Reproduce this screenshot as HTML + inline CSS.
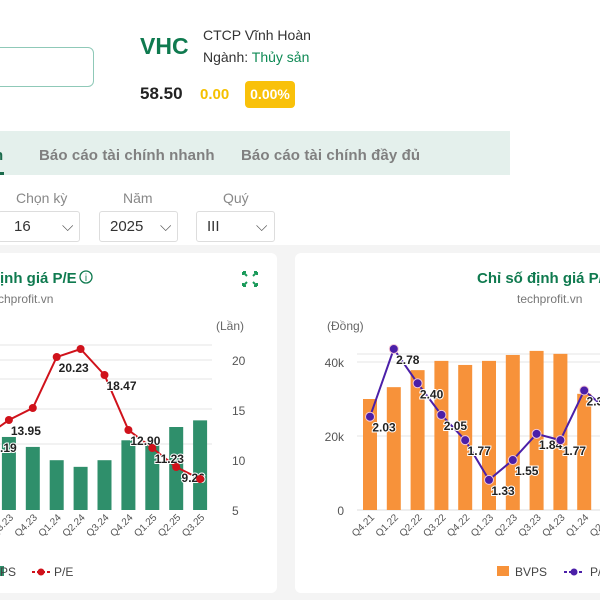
<!DOCTYPE html>
<html><head><meta charset="utf-8">
<style>
body{margin:0;width:600px;height:600px;overflow:hidden;background:#fff;font-family:"Liberation Sans","Noto Sans CJK SC",sans-serif;position:relative}
.a{position:absolute;white-space:nowrap}
</style></head><body>
<div class="a" style="left:-10px;top:47px;width:102px;height:38px;border:1px solid #8fc9b8;border-radius:6px"></div>
<div class="a" style="left:140px;top:33px;font-size:23px;font-weight:bold;color:#0f7a4f">VHC</div>
<div class="a" style="left:203px;top:27px;font-size:14px;color:#333">CTCP Vĩnh Hoàn</div>
<div class="a" style="left:203px;top:49px;font-size:14px;color:#333">Ngành: <span style="color:#0f8a55">Thủy sản</span></div>
<div class="a" style="left:140px;top:84px;font-size:17px;font-weight:bold;color:#222">58.50</div>
<div class="a" style="left:200px;top:86px;font-size:15px;font-weight:bold;color:#f5c000">0.00</div>
<div class="a" style="left:245px;top:81px;width:50px;height:27px;background:#f9c10a;border-radius:4px;color:#fff;font-weight:bold;font-size:14px;line-height:27px;text-align:center">0.00%</div>
<div class="a" style="left:0;top:131px;width:510px;height:44px;background:#e4f0ec"></div>
<div class="a" style="left:-6px;top:147px;font-size:15px;font-weight:bold;color:#1b6b4c">h</div>
<div class="a" style="left:0;top:172px;width:4px;height:3px;background:#1b6b4c"></div>
<div class="a" style="left:39px;top:147px;font-size:15px;font-weight:bold;color:#808080;letter-spacing:0.1px">Báo cáo tài chính nhanh</div>
<div class="a" style="left:241px;top:147px;font-size:15px;font-weight:bold;color:#808080;letter-spacing:0.1px">Báo cáo tài chính đầy đủ</div>
<div class="a" style="left:16px;top:190px;font-size:14px;color:#888">Chọn kỳ</div>
<div class="a" style="left:123px;top:190px;font-size:14px;color:#888">Năm</div>
<div class="a" style="left:223px;top:190px;font-size:14px;color:#888">Quý</div>
<div class="a" style="left:-2px;top:211px;width:80px;height:29px;border:1px solid #ddd;border-radius:3px;font-size:15px;line-height:29px;color:#333"><span style="margin-left:15px">16</span><span style="position:absolute;left:63px;color:#555">⌵</span></div>
<div class="a" style="left:99px;top:211px;width:77px;height:29px;border:1px solid #ddd;border-radius:3px;font-size:15px;line-height:29px;color:#333"><span style="margin-left:10px">2025</span><span style="position:absolute;left:60px;color:#555">⌵</span></div>
<div class="a" style="left:196px;top:211px;width:77px;height:29px;border:1px solid #ddd;border-radius:3px;font-size:15px;line-height:29px;color:#333"><span style="margin-left:10px">III</span><span style="position:absolute;left:59px;color:#555">⌵</span></div>
<div class="a" style="left:0;top:245px;width:600px;height:355px;background:#f4f4f4"></div>
<div class="a" style="left:-10px;top:253px;width:287px;height:340px;background:#fff;border-radius:6px"></div>
<div class="a" style="left:295px;top:253px;width:320px;height:340px;background:#fff;border-radius:6px"></div>
<svg class="a" style="left:0;top:0" width="600" height="600" id="svg" font-family="Liberation Sans, sans-serif">
<text x="0" y="283" font-size="15" font-weight="bold" fill="#0f7a4f">ịnh giá P/E</text>
<circle cx="86" cy="277" r="6" fill="none" stroke="#0f7a4f" stroke-width="1.3"/>
<text x="86" y="281" font-size="10" text-anchor="middle" fill="#0f7a4f">i</text>
<g stroke="#1a9a5a" stroke-width="2" fill="none"><path d="M243 272l4 4M243 272h3M243 272v3M257 272l-4 4M257 272h-3M257 272v3M243 286l4-4M243 286h3M243 286v-3M257 286l-4-4M257 286h-3M257 286v-3"/></g>
<text x="-12" y="303" font-size="12" fill="#777">techprofit.vn</text>
<text x="216" y="330" font-size="12" fill="#666">(Lần)</text>
<text x="477" y="283" font-size="15" font-weight="bold" fill="#0f7a4f">Chỉ số định giá P/B</text>
<text x="517" y="303" font-size="12" fill="#777">techprofit.vn</text>
<text x="327" y="330" font-size="12" fill="#666">(Đồng)</text>
<g id="L"></g><g id="R"></g>
<rect x="-8" y="566" width="12" height="10" fill="#2f8f6b"/>
<text x="0" y="576" font-size="12" fill="#444">PS</text>
<line x1="32" y1="572" x2="50" y2="572" stroke="#d0121b" stroke-width="2" stroke-dasharray="3,2"/>
<circle cx="41" cy="572" r="3.5" fill="#d0121b"/>
<text x="54" y="576" font-size="12" fill="#444">P/E</text>
<rect x="497" y="566" width="12" height="10" fill="#f7923a"/>
<text x="515" y="576" font-size="12" fill="#444">BVPS</text>
<line x1="564" y1="572" x2="584" y2="572" stroke="#4b1fa8" stroke-width="2" stroke-dasharray="3,2"/>
<circle cx="574" cy="572" r="3.5" fill="#4b1fa8"/>
<text x="590" y="576" font-size="12" fill="#444">P/B</text>
</svg>
<script>
const peCats=["Q2.23","Q3.23","Q4.23","Q1.24","Q2.24","Q3.24","Q4.24","Q1.25","Q2.25","Q3.25"];
const epsVals=[4.0,4.4,3.8,3.0,2.6,3.0,4.2,4.1,5.0,5.4];
const peVals=[12.3,14.0,15.2,20.3,21.1,18.5,13.0,11.2,9.3,8.1];
const peLabels=["11.19","13.95","","20.23","","18.47","12.90","11.23","9.26",""];
const peTicks=[5,10,15,20];
const pbCats=["Q4.21","Q1.22","Q2.22","Q3.22","Q4.22","Q1.23","Q2.23","Q3.23","Q4.23","Q1.24","Q2.24"];
const bvpsVals=[30,33.2,37.8,40.3,39.2,40.3,41.9,43,42.2,31.4,33];
const pbVals=[2.03,2.78,2.40,2.05,1.77,1.33,1.55,1.84,1.77,2.32,2.1];
const pbLabels=["2.03","2.78","2.40","2.05","1.77","1.33","1.55","1.84","1.77","2.32","2.10"];
const bvpsTicks=[0,20,40];
const NS="http://www.w3.org/2000/svg";
function mk(p,t,a){const e=document.createElementNS(NS,t);for(const k in a)e.setAttribute(k,a[k]);p.appendChild(e);return e;}
const L=document.getElementById('L');
const lx=i=>-15+i*23.9, peY=v=>560-v*10, epsY=v=>510-v*16.6;
[345,360,379,409,444].forEach(y=>mk(L,'line',{x1:-10,x2:212,y1:y,y2:y,stroke:'#e6e6e6'}));
peTicks.forEach(t=>{const e=mk(L,'text',{x:232,y:peY(t)+5,'font-size':12,fill:'#555'});e.textContent=t;

});
epsVals.forEach((v,i)=>{const r=mk(L,'rect',{x:lx(i)-7,y:epsY(v),width:14,height:510-epsY(v),fill:'#2f8f6b'});


const t=mk(L,'text',{transform:`translate(${lx(i)+5},518) rotate(-45)`,'text-anchor':'end','font-size':10,fill:'#555'});t.textContent=peCats[i];

});
const lp=mk(L,'polyline',{points:peVals.map((v,i)=>lx(i)+','+peY(v)).join(' '),fill:'none',stroke:'#d0121b','stroke-width':2});


peVals.forEach((v,i)=>{const c=mk(L,'circle',{cx:lx(i),cy:peY(v),r:4,fill:'#d0121b'});


if(peLabels[i]){const t=mk(L,'text',{x:lx(i)+17,y:peY(v)+15,'text-anchor':'middle','font-size':12,'font-weight':'bold',fill:'#222',stroke:'#fff','stroke-width':2,'paint-order':'stroke'});t.textContent=peLabels[i];

}});
const R=document.getElementById('R');
const rx=i=>370+i*23.8, bY=v=>510-v*3.7, pY=v=>600-v*90.3;
[354,362,436].forEach(y=>mk(R,'line',{x1:357,x2:600,y1:y,y2:y,stroke:'#e6e6e6'}));
mk(R,'line',{x1:357,x2:600,y1:510,y2:510,stroke:'#ddd'});
bvpsTicks.forEach(t=>{const e=mk(R,'text',{x:344,y:bY(t)+5,'text-anchor':'end','font-size':12,fill:'#555'});e.textContent=t?t+'k':'0';

});
bvpsVals.forEach((v,i)=>{const r=mk(R,'rect',{x:rx(i)-7,y:bY(v),width:14,height:510-bY(v),fill:'#f7923a'});


const t=mk(R,'text',{transform:`translate(${rx(i)+5},518) rotate(-45)`,'text-anchor':'end','font-size':10,fill:'#555'});t.textContent=pbCats[i];

});
const rp=mk(R,'polyline',{points:pbVals.map((v,i)=>rx(i)+','+pY(v)).join(' '),fill:'none',stroke:'#4b1fa8','stroke-width':2});


pbVals.forEach((v,i)=>{const c=mk(R,'circle',{cx:rx(i),cy:pY(v),r:4.5,fill:'#4b1fa8',stroke:'#f3c7d6','stroke-width':1});


const t=mk(R,'text',{x:rx(i)+14,y:pY(v)+15,'text-anchor':'middle','font-size':12,'font-weight':'bold',fill:'#222',stroke:'#fff','stroke-width':2,'paint-order':'stroke'});t.textContent=pbLabels[i];

});
</script>
</body></html>
